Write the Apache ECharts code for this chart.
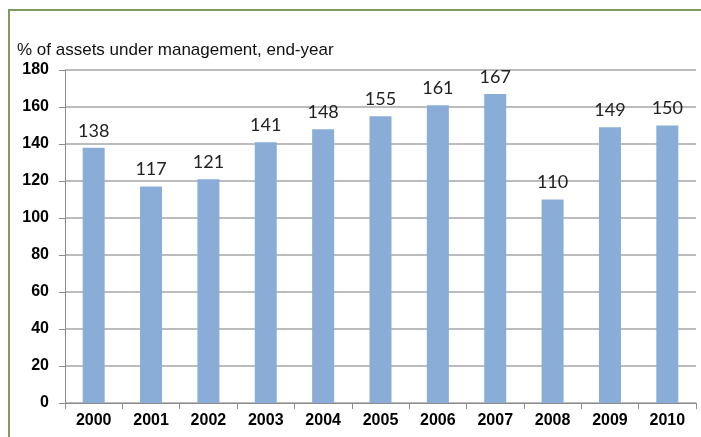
<!DOCTYPE html>
<html>
<head>
<meta charset="utf-8">
<script src="https://cdn.jsdelivr.net/npm/echarts@6/dist/echarts.min.js"></script>
<style>
  html, body { margin: 0; padding: 0; background: #fff; }
  #frame {
    position: absolute; left: 8px; top: 9px; width: 720px; height: 460px;
    border-left: 2px solid #7d9b61; border-top: 2px solid #7d9b61;
  }
  #chart { position: absolute; left: 0; top: 0; width: 701px; height: 437px; }
</style>
</head>
<body>
<div id="frame"></div>
<div id="chart"></div>
<script>
const years = ['2000', '2001', '2002', '2003', '2004', '2005', '2006', '2007', '2008', '2009', '2010']
const turnover = [138, 117, 121, 141, 148, 155, 161, 167, 110, 149, 150]
const subtitle = '% of assets under management, end-year'

const chart = echarts.init(document.getElementById('chart'), null, { renderer: 'canvas' })
chart.setOption({
  animation: false,
  title: {
    text: subtitle,
    left: 12,
    top: 37,
    textStyle: {
      fontFamily: 'Liberation Sans, Arial',
      fontSize: 17,
      fontWeight: 'normal',
      color: '#111'
    }
  },
  grid: {
    left: 65,
    right: 5,
    top: 70,
    bottom: 34
  },
  xAxis: {
    type: 'category',
    data: years,
    axisLine: { lineStyle: { color: '#8c8c8c', width: 1 } },
    axisTick: { show: true, length: 6, lineStyle: { color: '#8c8c8c' } },
    axisLabel: {
      color: '#000',
      fontFamily: 'Liberation Sans, Arial',
      fontWeight: 'bold',
      fontSize: 16,
      margin: 10
    }
  },
  yAxis: {
    type: 'value',
    min: 0,
    max: 180,
    interval: 20,
    axisLine: { show: true, lineStyle: { color: '#8c8c8c', width: 1 } },
    axisTick: { show: true, length: 6, lineStyle: { color: '#8c8c8c' } },
    splitLine: { lineStyle: { color: '#a6a6a6', width: 1.5 } },
    axisLabel: {
      color: '#000',
      fontFamily: 'Liberation Sans, Arial',
      fontWeight: 'bold',
      fontSize: 16,
      margin: 16
    }
  },
  series: [
    {
      type: 'bar',
      data: turnover,
      barWidth: 22,
      itemStyle: { color: '#8aadd8' },
      label: {
        show: true,
        position: 'top',
        distance: 8,
        color: '#222',
        fontFamily: 'Lato, Open Sans, sans-serif',
        fontSize: 18
      }
    }
  ]
})
</script>
</body>
</html>
